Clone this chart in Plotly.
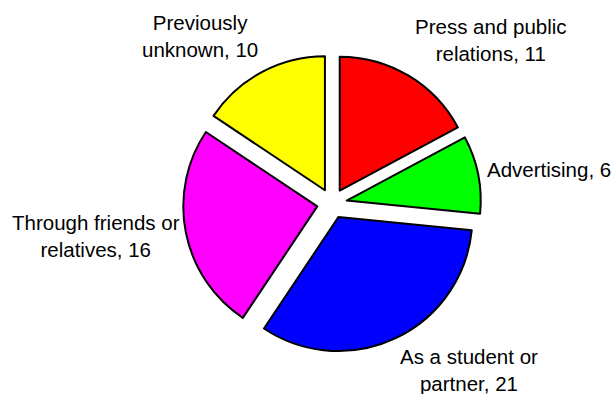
import plotly.graph_objects as go

# Source of contact, counts per category
labels = [
    "Press and public<br>relations",
    "Advertising",
    "As a student or<br>partner",
    "Through friends or<br>relatives",
    "Previously<br>unknown",
]
values = [11, 6, 21, 16, 10]
colors = ["#FF0000", "#00FF00", "#0000FF", "#FF00FF", "#FFFF00"]

# Label placement in pixels (x, y from top) and horizontal anchor
label_pos = [(491, 39.5), (485, 170), (469, 369.5), (96, 236), (200, 36)]
label_anchor = ["center", "left", "center", "center", "center"]

W, H = 611, 394
FONT = "Liberation Sans, Arial, sans-serif"

fig = go.Figure(
    go.Pie(
        labels=labels,
        values=values,
        sort=False,
        direction="clockwise",
        rotation=0,
        pull=0.112,
        marker=dict(colors=colors, line=dict(color="black", width=2)),
        textinfo="none",
        hoverinfo="label+value",
        domain=dict(x=[183 / W, 481 / W], y=[(H - 352.5) / H, (H - 54.5) / H]),
    )
)

for lab, val, (px, py), anc in zip(labels, values, label_pos, label_anchor):
    fig.add_annotation(
        text=f"{lab}, {val}",
        x=px / W,
        y=(H - py) / H,
        xref="paper",
        yref="paper",
        xanchor=anc,
        yanchor="middle",
        showarrow=False,
        align="center",
        font=dict(family=FONT, size=20.5, color="#000000"),
    )

fig.update_layout(
    width=W,
    height=H,
    margin=dict(l=0, r=0, t=0, b=0),
    showlegend=False,
    paper_bgcolor="white",
    plot_bgcolor="white",
)

fig.write_html("out.html")
